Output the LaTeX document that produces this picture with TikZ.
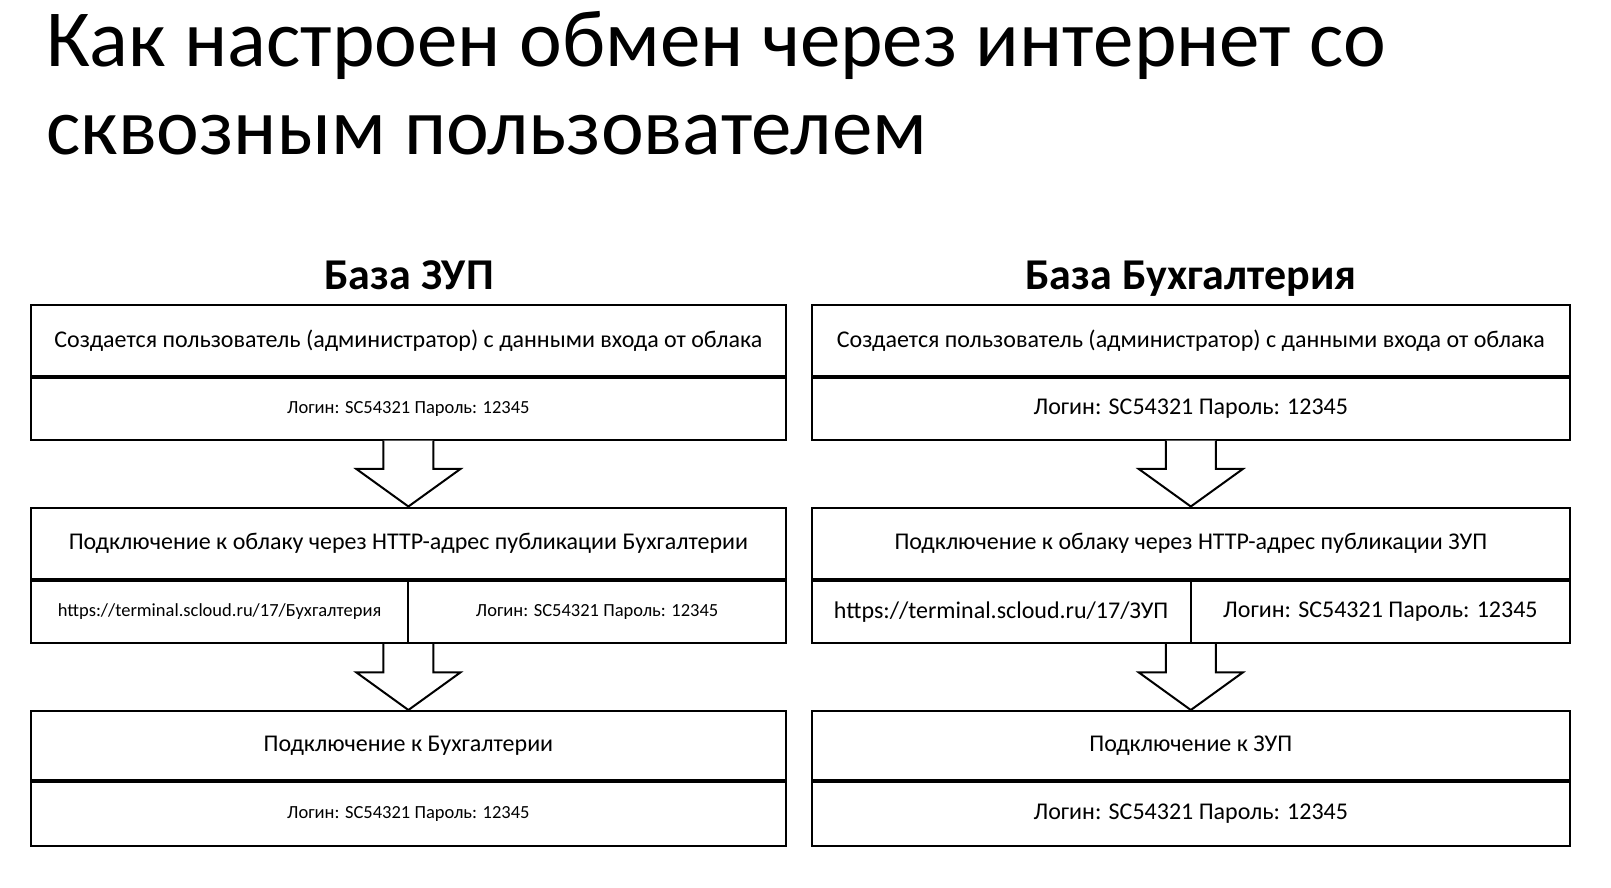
\documentclass[tikz,border=0pt]{standalone}
\usepackage{fontspec}
\setmainfont{Carlito}
\usetikzlibrary{calc}
\begin{document}
\begin{tikzpicture}[x=1pt,y=-1pt,
  cellbox/.style={draw=black, line width=2pt, inner sep=0pt, fill=white},
  bigtext/.style={font=\fontsize{24}{28}\selectfont},
  smalltext/.style={font=\fontsize{18.5}{22}\selectfont},
  blockarrow/.style={draw=black, line width=2pt, fill=white, line join=miter},
  titletext/.style={font=\fontsize{81}{86}\selectfont, anchor=base west, inner sep=0pt},
  headtext/.style={font=\bfseries\fontsize{44}{48}\selectfont, anchor=base, inner sep=0pt}
]
\useasboundingbox (0,0) rectangle (1611,888);
\fill[white] (0,0) rectangle (1611,888);

\node[titletext] (t1) at (46,67) {Как настроен обмен через интернет со};
\node[titletext] (t2) at (46,154) {сквозным пользователем};

\node[headtext] (hl) at (409,289) {База ЗУП};
\node[headtext] (hr) at (1191,289) {База Бухгалтерия};

% ---- left column ----
\node[cellbox, bigtext, minimum width=755pt, minimum height=71pt] (l1a) at (408.4,340.5)
  {Создается пользователь (администратор) с данными входа от облака};
\node[cellbox, smalltext, minimum width=755pt, minimum height=61.7pt, anchor=north] (l1b) at (l1a.south)
  {Логин: SC54321 Пароль: 12345};

\node[cellbox, bigtext, minimum width=755pt, minimum height=71pt] (l2a) at (408.4,543)
  {Подключение к облаку через HTTP-адрес публикации Бухгалтерии};
\node[cellbox, smalltext, minimum width=377.5pt, minimum height=62.6pt, anchor=north west] (l2b) at (l2a.south west)
  {https://terminal.scloud.ru/17/Бухгалтерия};
\node[cellbox, smalltext, minimum width=377.5pt, minimum height=62.6pt, anchor=north east] (l2c) at (l2a.south east)
  {Логин: SC54321 Пароль: 12345};

\node[cellbox, bigtext, minimum width=755pt, minimum height=69pt] (l3a) at (408.4,745.5)
  {Подключение к Бухгалтерии};
\node[cellbox, smalltext, minimum width=755pt, minimum height=63.7pt, anchor=north] (l3b) at (l3a.south)
  {Логин: SC54321 Пароль: 12345};

% ---- right column ----
\node[cellbox, bigtext, minimum width=758.4pt, minimum height=71pt] (r1a) at (1190.8,340.5)
  {Создается пользователь (администратор) с данными входа от облака};
\node[cellbox, bigtext, minimum width=758.4pt, minimum height=61.7pt, anchor=north] (r1b) at (r1a.south)
  {Логин: SC54321 Пароль: 12345};

\node[cellbox, bigtext, minimum width=758.4pt, minimum height=71pt] (r2a) at (1190.8,543)
  {Подключение к облаку через HTTP-адрес публикации ЗУП};
\node[cellbox, bigtext, minimum width=379.2pt, minimum height=62.6pt, anchor=north west] (r2b) at (r2a.south west)
  {https://terminal.scloud.ru/17/ЗУП};
\node[cellbox, bigtext, minimum width=379.2pt, minimum height=62.6pt, anchor=north east] (r2c) at (r2a.south east)
  {Логин: SC54321 Пароль: 12345};

\node[cellbox, bigtext, minimum width=758.4pt, minimum height=69pt] (r3a) at (1190.8,745.5)
  {Подключение к ЗУП};
\node[cellbox, bigtext, minimum width=758.4pt, minimum height=63.7pt, anchor=north] (r3b) at (r3a.south)
  {Логин: SC54321 Пароль: 12345};

% ---- block arrows ----
\foreach \a/\b in {l1b/l2a, r1b/r2a, l2b/l3a, r2b/r3a}{
  \coordinate (top) at (\a.south -| \b.north);
  \coordinate (base) at ($(top)!0.43!(\b.north)$);
  \draw[blockarrow] ($(top)+(-25,0)$) -- ($(base)+(-25,0)$) -- ($(base)+(-52,0)$)
     -- (\b.north) -- ($(base)+(52,0)$) -- ($(base)+(25,0)$) -- ($(top)+(25,0)$);
}
\end{tikzpicture}
\end{document}
